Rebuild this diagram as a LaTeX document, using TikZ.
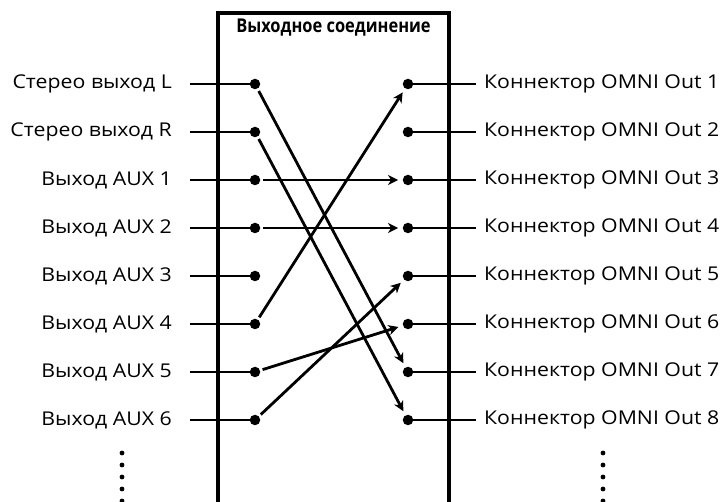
\documentclass[tikz,border=0pt]{standalone}
\usepackage{fontspec}
\setmainfont[FakeStretch=1.12]{Open Sans}
\newfontfamily\titlefont[FakeStretch=0.865]{Open Sans}
\usetikzlibrary{arrows.meta}

\begin{document}
\begin{tikzpicture}[x=1pt, y=-1pt,
  lab/.style={font=\fontsize{19}{19}\selectfont, inner sep=0pt},
  pin/.style={circle, fill, inner sep=0pt, minimum size=10.5pt},
  wire/.style={line width=2.8pt},
  arr/.style={line width=2.8pt, -{Stealth[length=10pt, width=10pt, inset=3pt]}, shorten <=2.5pt, shorten >=4.5pt}
]
\useasboundingbox (0,0) rectangle (723,502);

% module frame, open at the bottom
\draw[line width=4.5pt] (218,510) |- (449,13) -- (449,510);
\node[font=\titlefont\bfseries\fontsize{19}{19}\selectfont] (title) at (333.5,28) {Выходное соединение};

% output buses (left)
\node[lab, anchor=east] (srcL) at (172,84) {Стерео выход L};
\node[lab, anchor=east] (srcR) at (172,132) {Стерео выход R};
\node[lab, anchor=east] (aux1) at (172,180) {Выход AUX 1};
\node[lab, anchor=east] (aux2) at (172,228) {Выход AUX 2};
\node[lab, anchor=east] (aux3) at (172,276) {Выход AUX 3};
\node[lab, anchor=east] (aux4) at (172,324) {Выход AUX 4};
\node[lab, anchor=east] (aux5) at (172,372) {Выход AUX 5};
\node[lab, anchor=east] (aux6) at (172,420) {Выход AUX 6};
\node[pin] (sL) at (255,84) {};
\node[pin] (sR) at (255,132) {};
\node[pin] (s1) at (255,180) {};
\node[pin] (s2) at (255,228) {};
\node[pin] (s3) at (255,276) {};
\node[pin] (s4) at (255,324) {};
\node[pin] (s5) at (255,372) {};
\node[pin] (s6) at (255,420) {};

% OMNI connectors (right)
\node[pin] (o1) at (408,84) {};
\node[pin] (o2) at (408,132) {};
\node[pin] (o3) at (408,180) {};
\node[pin] (o4) at (408,228) {};
\node[pin] (o5) at (408,276) {};
\node[pin] (o6) at (408,324) {};
\node[pin] (o7) at (408,372) {};
\node[pin] (o8) at (408,420) {};
\node[lab, anchor=west] (omni1) at (484,84) {Коннектор OMNI Out 1};
\node[lab, anchor=west] (omni2) at (484,132) {Коннектор OMNI Out 2};
\node[lab, anchor=west] (omni3) at (484,180) {Коннектор OMNI Out 3};
\node[lab, anchor=west] (omni4) at (484,228) {Коннектор OMNI Out 4};
\node[lab, anchor=west] (omni5) at (484,276) {Коннектор OMNI Out 5};
\node[lab, anchor=west] (omni6) at (484,324) {Коннектор OMNI Out 6};
\node[lab, anchor=west] (omni7) at (484,372) {Коннектор OMNI Out 7};
\node[lab, anchor=west] (omni8) at (484,420) {Коннектор OMNI Out 8};

\draw[wire] ([xshift=18pt]srcL.east) -- (sL);
\draw[wire] ([xshift=18pt]srcR.east) -- (sR);
\draw[wire] ([xshift=18pt]aux1.east) -- (s1);
\draw[wire] ([xshift=18pt]aux2.east) -- (s2);
\draw[wire] ([xshift=18pt]aux3.east) -- (s3);
\draw[wire] ([xshift=18pt]aux4.east) -- (s4);
\draw[wire] ([xshift=18pt]aux5.east) -- (s5);
\draw[wire] ([xshift=18pt]aux6.east) -- (s6);
\draw[wire] (o1) -- ([xshift=-8pt]omni1.west);
\draw[wire] (o2) -- ([xshift=-8pt]omni2.west);
\draw[wire] (o3) -- ([xshift=-8pt]omni3.west);
\draw[wire] (o4) -- ([xshift=-8pt]omni4.west);
\draw[wire] (o5) -- ([xshift=-8pt]omni5.west);
\draw[wire] (o6) -- ([xshift=-8pt]omni6.west);
\draw[wire] (o7) -- ([xshift=-8pt]omni7.west);
\draw[wire] (o8) -- ([xshift=-8pt]omni8.west);

% routing
\draw[arr] (sL) -- (o7);
\draw[arr] (sR) -- (o8);
\draw[arr] (s1) -- (o3);
\draw[arr] (s2) -- (o4);
\draw[arr] (s4) -- (o1);
\draw[arr] (s5) -- (o6);
\draw[arr] (s6) -- (o5);

% more channels
\foreach \k in {0,...,4} {
  \fill (122,453+12*\k) circle (2.4);
  \fill (603,453+12*\k) circle (2.4);
}
\end{tikzpicture}
\end{document}
